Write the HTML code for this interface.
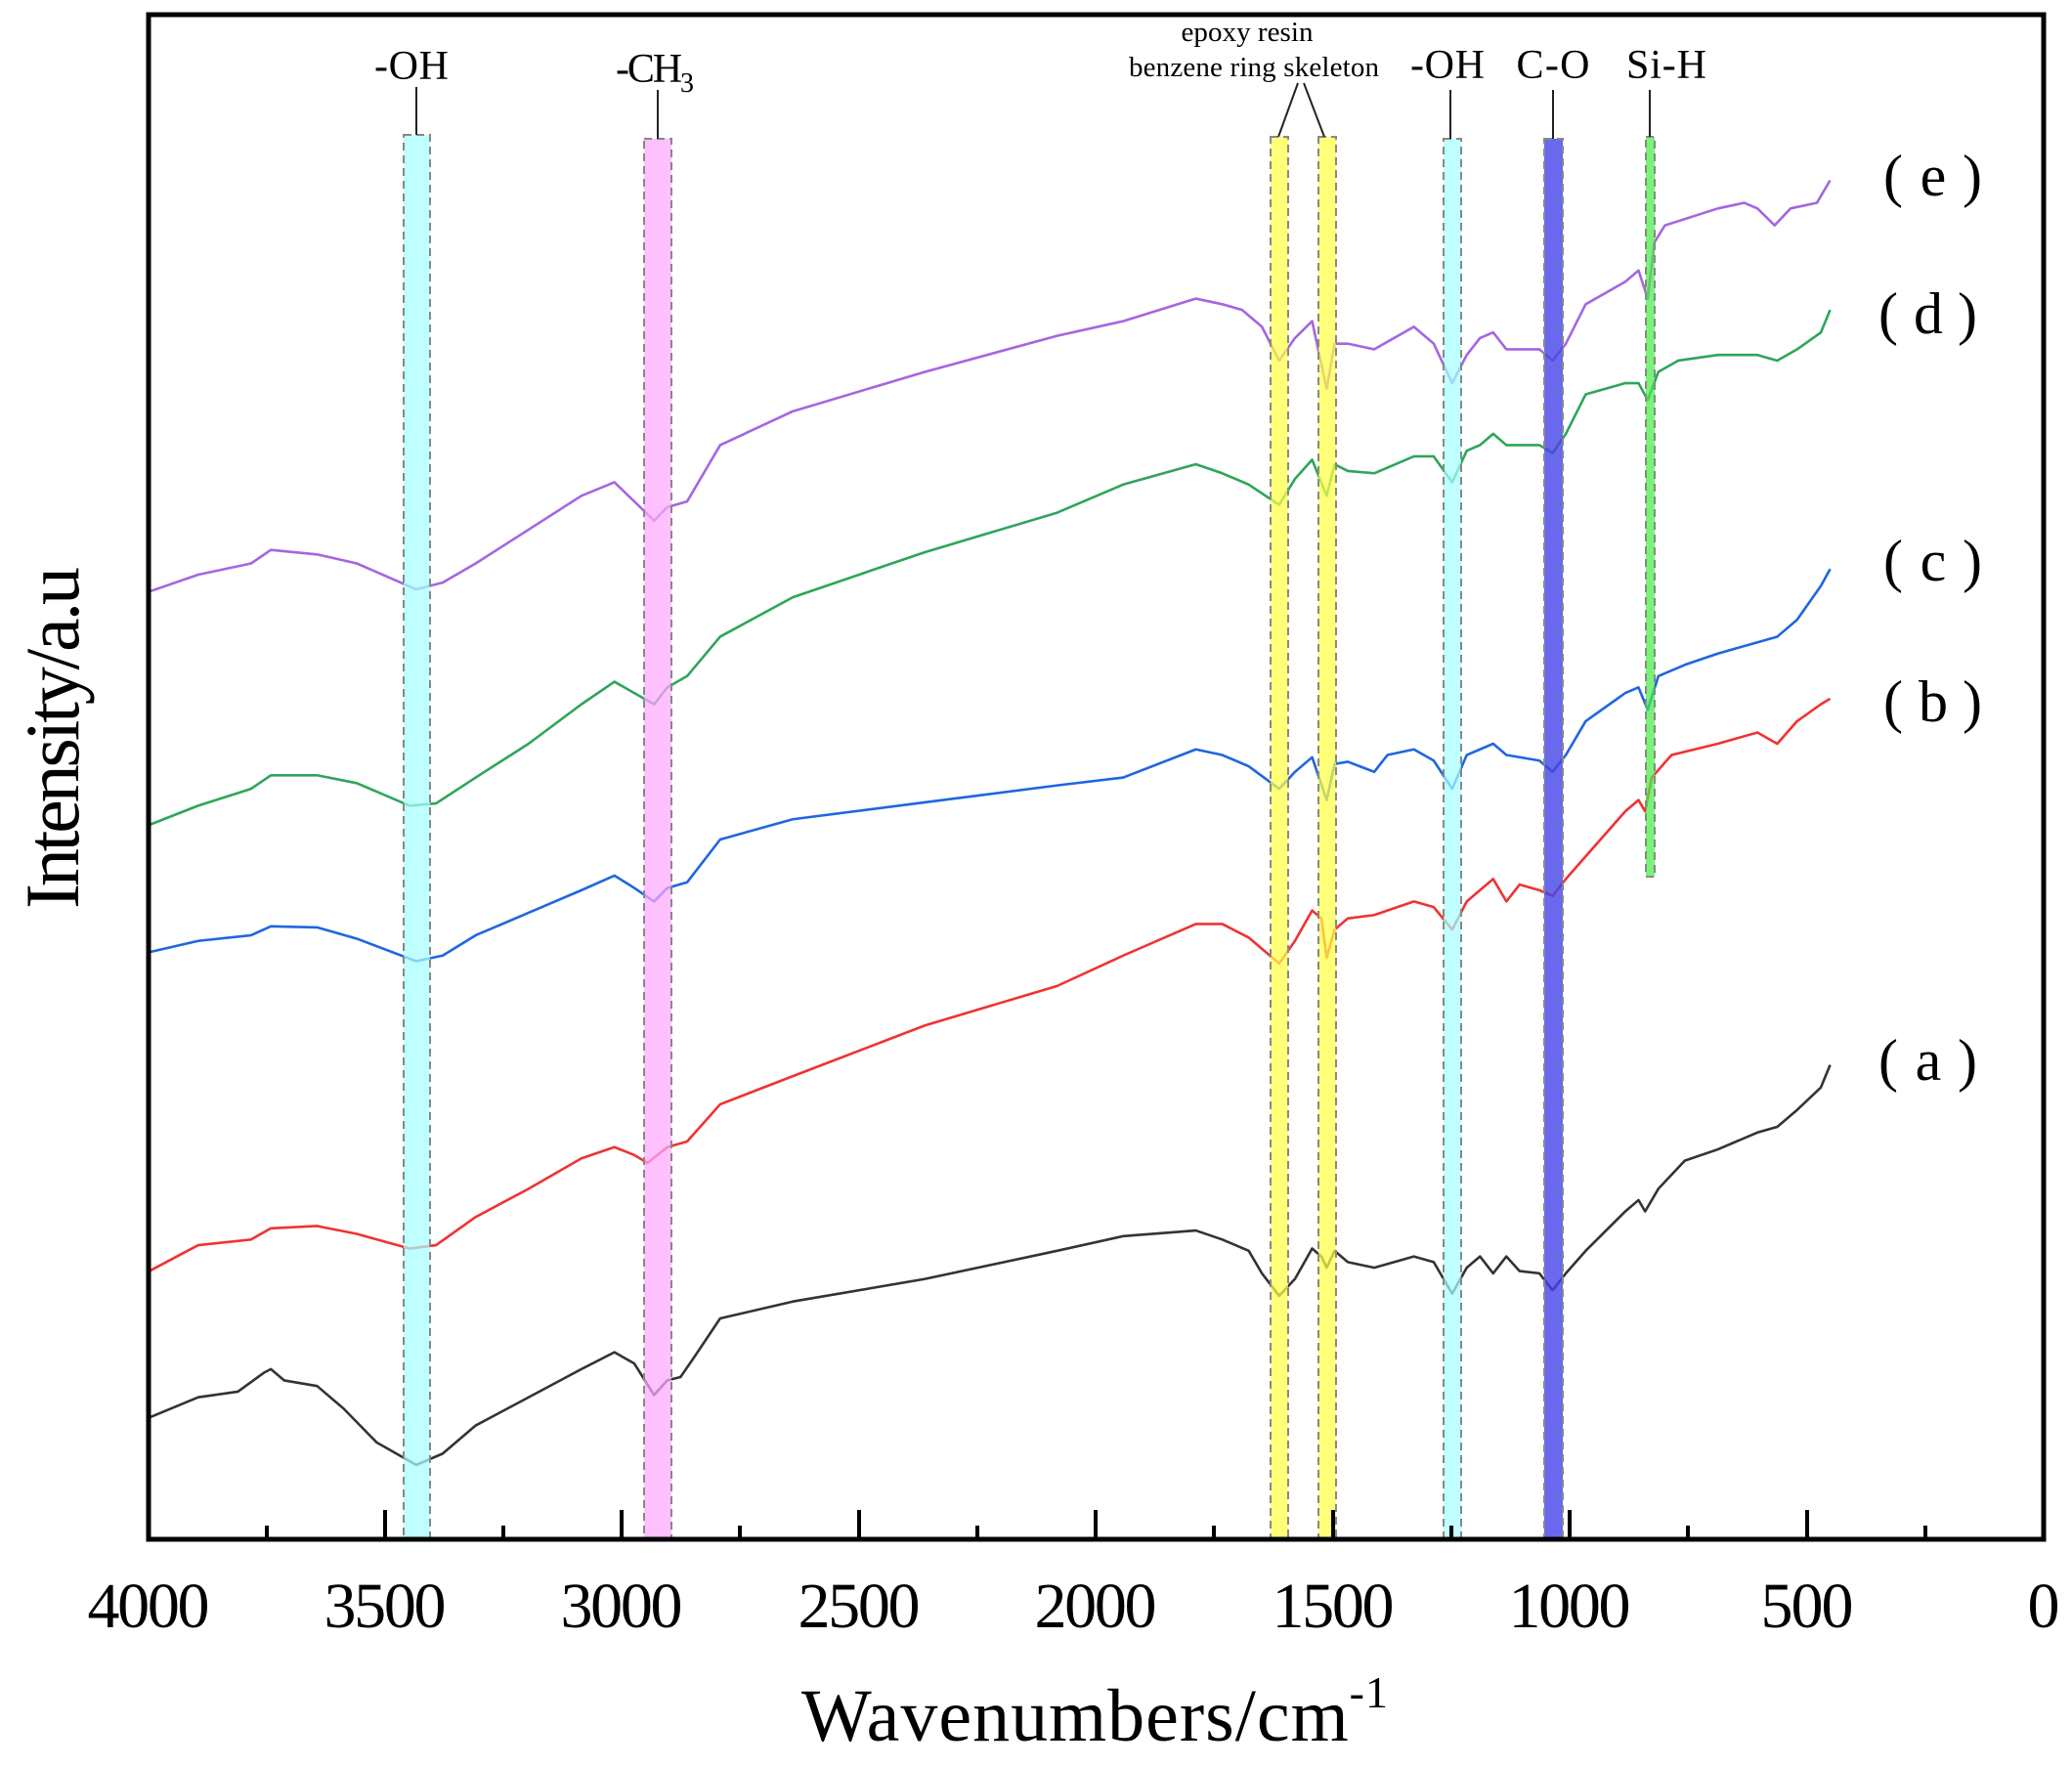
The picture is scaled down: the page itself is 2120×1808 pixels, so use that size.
<!DOCTYPE html>
<html><head><meta charset="utf-8"><style>
html,body{margin:0;padding:0;background:#fff;}
svg{display:block;}
text{font-family:"Liberation Serif","Noto Serif CJK SC",serif;fill:#000;}
</style></head><body>
<svg width="2120" height="1808" viewBox="0 0 2120 1808" xmlns="http://www.w3.org/2000/svg">
<g fill="none" stroke-width="2.6" stroke-linejoin="round" transform="scale(1.352,1.153)">
<polyline vector-effect="non-scaling-stroke" stroke="#333333" points="113,1258 150,1240 180,1235 200,1218 205,1215 215,1225 240,1230 260,1250 285,1280 315,1300 335,1290 360,1265 400,1240 440,1215 465,1200 480,1210 495,1238 505,1225 515,1222 525,1205 545,1170 600,1155 700,1135 800,1110 850,1097 905,1092 925,1100 945,1110 955,1130 968,1150 980,1135 993,1108 1000,1115 1004,1125 1010,1110 1020,1120 1040,1125 1070,1115 1085,1120 1099,1148 1110,1125 1120,1115 1130,1130 1140,1115 1150,1128 1165,1130 1175,1145 1185,1130 1200,1110 1230,1075 1240,1065 1245,1075 1255,1055 1275,1030 1300,1020 1330,1005 1345,1000 1360,985 1378,965 1385,945"/>
<polyline vector-effect="non-scaling-stroke" stroke="#f03232" points="113,1128 150,1105 190,1100 205,1090 240,1088 270,1095 310,1108 330,1105 360,1080 400,1055 440,1028 465,1018 480,1025 490,1032 505,1018 520,1013 545,980 600,955 700,910 800,875 850,848 905,820 925,820 945,832 958,845 968,855 980,835 993,808 1000,815 1004,850 1010,825 1020,815 1040,812 1070,800 1085,805 1099,825 1110,800 1120,790 1130,780 1140,800 1150,785 1165,790 1175,795 1185,780 1200,760 1230,720 1240,710 1245,720 1250,690 1265,670 1300,660 1330,650 1345,660 1360,640 1378,625 1385,620"/>
<polyline vector-effect="non-scaling-stroke" stroke="#1f66e0" points="113,845 150,835 190,830 205,822 240,823 270,833 315,853 335,848 360,830 400,810 440,790 465,777 480,788 495,800 505,788 520,783 545,745 600,727 700,712 800,697 850,690 905,665 925,670 945,680 968,700 980,685 993,672 1004,710 1010,678 1020,676 1040,685 1050,670 1070,665 1085,675 1099,700 1110,670 1120,665 1130,660 1140,670 1165,675 1175,685 1185,670 1200,640 1230,615 1240,610 1247,630 1255,600 1275,590 1300,580 1330,570 1345,565 1360,550 1378,520 1385,505"/>
<polyline vector-effect="non-scaling-stroke" stroke="#2ea55a" points="113,732 150,715 190,700 205,688 240,688 270,695 310,715 330,713 360,690 400,660 440,625 465,605 480,615 495,625 505,610 520,600 545,565 600,530 700,490 800,455 850,430 905,412 925,420 945,430 968,448 980,425 993,408 1004,440 1010,412 1020,418 1040,420 1070,405 1085,405 1099,428 1110,400 1120,395 1130,385 1140,395 1165,395 1175,402 1185,385 1200,350 1230,340 1240,340 1247,355 1255,330 1270,320 1300,315 1330,315 1345,320 1360,310 1378,295 1385,275"/>
<polyline vector-effect="non-scaling-stroke" stroke="#a466e0" points="113,525 150,510 190,500 205,488 240,492 270,500 315,523 335,517 360,500 400,470 440,440 465,428 480,445 495,462 505,450 520,445 545,395 600,365 700,330 800,298 850,285 905,265 925,270 940,275 955,290 968,320 980,300 993,285 1004,345 1010,305 1020,305 1040,310 1070,290 1085,305 1099,340 1110,315 1120,300 1130,295 1140,310 1150,310 1165,310 1175,320 1185,305 1200,270 1230,250 1240,240 1247,265 1252,215 1260,200 1300,185 1320,180 1330,185 1343,200 1355,185 1375,180 1385,160"/>
</g>
<g stroke="#888" stroke-width="2" stroke-dasharray="8,5" fill-opacity="0.72">
<rect x="413" y="138" width="27" height="1437" fill="#a8ffff"/>
<rect x="659" y="142" width="28" height="1433" fill="#ffa8ff"/>
<rect x="1300" y="140" width="18" height="1435" fill="#ffff44"/>
<rect x="1349" y="140" width="18" height="1435" fill="#ffff44"/>
<rect x="1477" y="142" width="18" height="1433" fill="#a8ffff"/>
<rect x="1580" y="142" width="19" height="1433" fill="#4444e8" fill-opacity="0.8"/>
<rect x="1684" y="140" width="9" height="757" fill="#44ee44"/>
</g>
<g stroke="#222" stroke-width="2">
<line x1="426" y1="89" x2="426" y2="138"/>
<line x1="673" y1="92" x2="673" y2="142"/>
<line x1="1328" y1="85" x2="1308" y2="140"/>
<line x1="1334" y1="85" x2="1355" y2="140"/>
<line x1="1484" y1="92" x2="1484" y2="142"/>
<line x1="1589" y1="92" x2="1589" y2="142"/>
<line x1="1688" y1="92" x2="1688" y2="140"/>
</g>
<rect x="152" y="15" width="1939" height="1560" fill="none" stroke="#000" stroke-width="5"/>
<g stroke="#000" stroke-width="4">
<line x1="152" y1="1575" x2="152" y2="1545"/><line x1="273" y1="1575" x2="273" y2="1561"/>
<line x1="394" y1="1575" x2="394" y2="1545"/><line x1="515" y1="1575" x2="515" y2="1561"/>
<line x1="636" y1="1575" x2="636" y2="1545"/><line x1="757" y1="1575" x2="757" y2="1561"/>
<line x1="879" y1="1575" x2="879" y2="1545"/><line x1="1000" y1="1575" x2="1000" y2="1561"/>
<line x1="1121" y1="1575" x2="1121" y2="1545"/><line x1="1242" y1="1575" x2="1242" y2="1561"/>
<line x1="1364" y1="1575" x2="1364" y2="1545"/><line x1="1485" y1="1575" x2="1485" y2="1561"/>
<line x1="1606" y1="1575" x2="1606" y2="1545"/><line x1="1727" y1="1575" x2="1727" y2="1561"/>
<line x1="1849" y1="1575" x2="1849" y2="1545"/><line x1="1970" y1="1575" x2="1970" y2="1561"/>
</g>
<g font-size="66" text-anchor="middle">
<text x="152" y="1665" textLength="125">4000</text>
<text x="394" y="1665" textLength="125">3500</text>
<text x="636" y="1665" textLength="125">3000</text>
<text x="879" y="1665" textLength="125">2500</text>
<text x="1121" y="1665" textLength="125">2000</text>
<text x="1364" y="1665" textLength="125">1500</text>
<text x="1606" y="1665" textLength="125">1000</text>
<text x="1849" y="1665" textLength="95">500</text>
<text x="2091" y="1665">0</text>
</g>
<text x="1120" y="1781" font-size="76" text-anchor="middle" textLength="600">Wavenumbers/cm<tspan font-size="46" dy="-34">-1</tspan></text>
<text transform="translate(80,755) rotate(-90)" font-size="78" text-anchor="middle" textLength="350">Intensity/a.u</text>
<g font-size="42" text-anchor="middle">
<text x="421" y="81" textLength="76">-OH</text>
<text x="670" y="84" textLength="80">-CH<tspan font-size="28" dy="10">3</tspan></text>
<text x="1481" y="80" textLength="76">-OH</text>
<text x="1589" y="80" textLength="75">C-O</text>
<text x="1705" y="80" textLength="82">Si-H</text>
</g>
<g font-size="60" text-anchor="middle">
<text y="200"><tspan x="1937">(</tspan><tspan x="1978">e</tspan><tspan x="2018">)</tspan></text>
<text y="341"><tspan x="1932">(</tspan><tspan x="1973">d</tspan><tspan x="2013">)</tspan></text>
<text y="594"><tspan x="1937">(</tspan><tspan x="1978">c</tspan><tspan x="2018">)</tspan></text>
<text y="738"><tspan x="1937">(</tspan><tspan x="1978">b</tspan><tspan x="2018">)</tspan></text>
<text y="1105"><tspan x="1932">(</tspan><tspan x="1973">a</tspan><tspan x="2013">)</tspan></text>
</g>
<g font-size="29" text-anchor="middle">
<text x="1276" y="42" textLength="135">epoxy resin</text>
<text x="1283" y="78" textLength="256">benzene ring skeleton</text>
</g>
</svg>
</body></html>
